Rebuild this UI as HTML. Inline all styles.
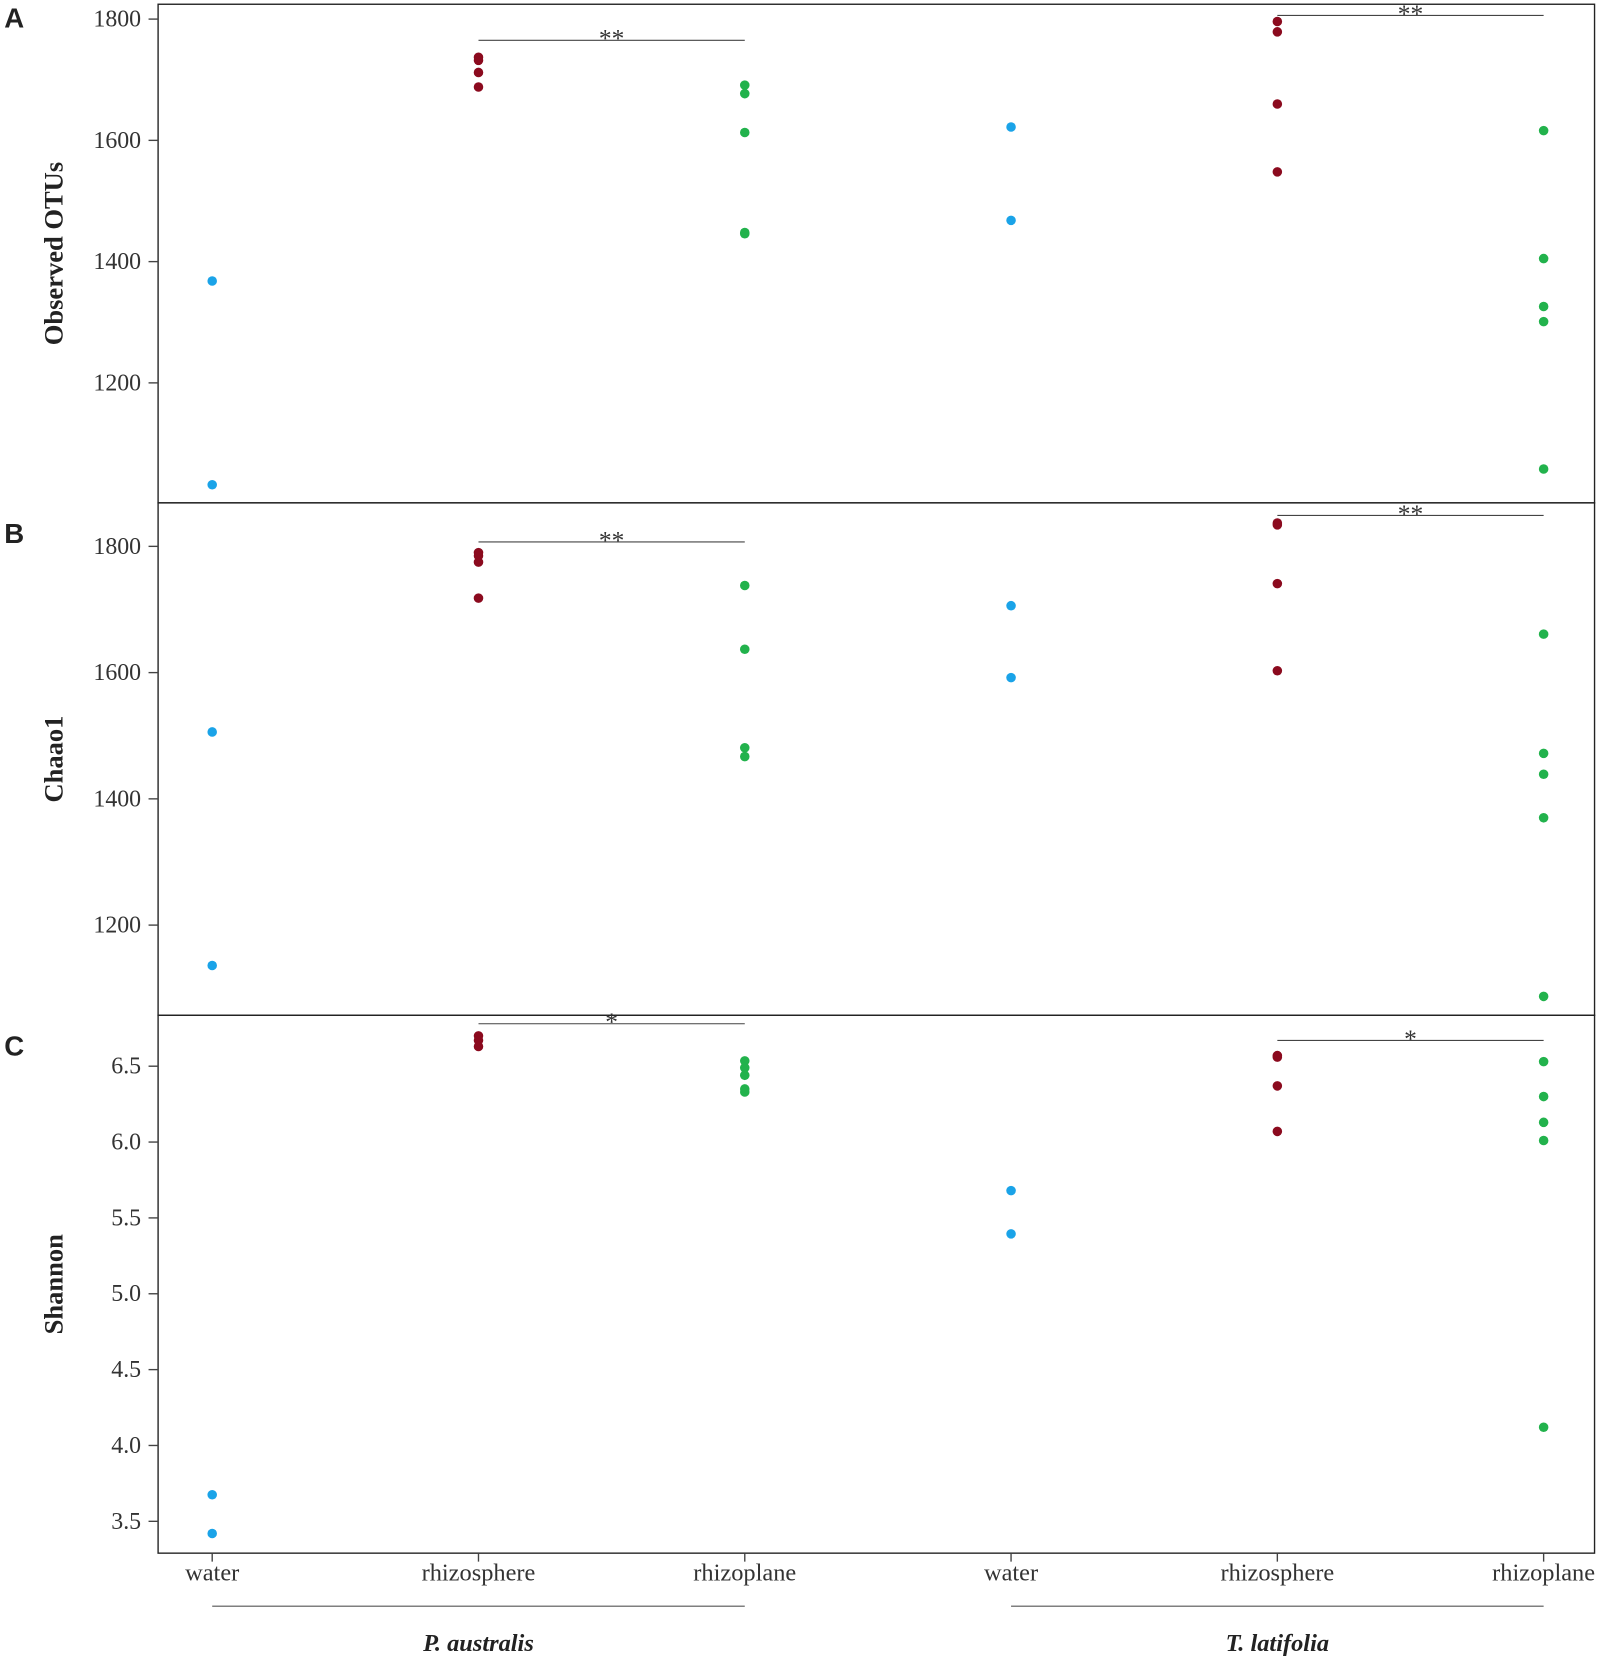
<!DOCTYPE html>
<html><head><meta charset="utf-8"><style>html,body{margin:0;padding:0;background:#fff}svg{display:block}</style></head>
<body>
<svg id="chart" xmlns="http://www.w3.org/2000/svg" width="1602" height="1662" viewBox="0 0 1510 1566.6"></svg>
<script>
const categories = ["water","rhizosphere","rhizoplane","water","rhizosphere","rhizoplane"];
const groupLabels = ["P. australis","T. latifolia"];
const otusValues = [[1368,1032],[1737,1732,1712,1688],[1691,1677,1613,1448,1446],[1622,1468],[1796,1779,1660,1548],[1616,1405,1326,1301,1058]];
const chaoValues = [[1506,1136],[1790,1785,1775,1718],[1738,1637,1481,1467],[1706,1592],[1837,1834,1741,1603],[1661,1472,1439,1370,1087]];
const shannonValues = [[3.675,3.42],[6.70,6.67,6.63],[6.535,6.49,6.44,6.35,6.33],[5.68,5.395],[6.57,6.56,6.37,6.07],[6.53,6.30,6.13,6.01,4.12]];
const otusTicks = [1200,1400,1600,1800];
const chaoTicks = [1200,1400,1600,1800];
const shannonTicks = [3.5,4.0,4.5,5.0,5.5,6.0,6.5];
const otusSig = [["**",1,2,1765],["**",4,5,1806]];
const chaoSig = [["**",1,2,1807],["**",4,5,1849]];
const shannonSig = [["*",1,2,6.78],["*",4,5,6.67]];

const NS="http://www.w3.org/2000/svg";
const svg=document.getElementById('chart');
function mk(tag,attrs,parent){const e=document.createElementNS(NS,tag);for(const k in attrs)e.setAttribute(k,attrs[k]);(parent||svg).appendChild(e);return e;}
const colors=["#1aa3e8","#8b0a1e","#22b24c","#1aa3e8","#8b0a1e","#22b24c"];
const L=149,R=1503;
function xPos(i){return 200+i*251;}
const panels=[
 {key:"a",letter:"A",title:"Observed OTUs",top:4,bottom:474,v0:1800,y0:18,pxPer:114.3/200,vals:otusValues,ticks:otusTicks,sig:otusSig,dec:0},
 {key:"b",letter:"B",title:"Chaao1",top:474,bottom:957,v0:1800,y0:515,pxPer:119/200,vals:chaoValues,ticks:chaoTicks,sig:chaoSig,dec:0},
 {key:"c",letter:"C",title:"Shannon",top:957,bottom:1464,v0:6.5,y0:1005,pxPer:143,vals:shannonValues,ticks:shannonTicks,sig:shannonSig,dec:1}
];
panels.forEach(p=>{
 const g=mk('g',{});
 
 
 const y=v=>p.y0+(p.v0-v)*p.pxPer;
 const fr=mk('rect',{x:L,y:p.top,width:R-L,height:p.bottom-p.top,fill:'none',stroke:'#222','stroke-width':1.3},g);
 
 
 p.ticks.forEach(t=>{
  const ty=y(t);
  const tl=mk('line',{x1:L-9,x2:L,y1:ty,y2:ty,stroke:'#444','stroke-width':1.3},g);
  
  
  const tx=mk('text',{x:L-16,y:ty+7,'text-anchor':'end','font-family':'Liberation Serif, serif','font-size':22.5,fill:'#333'},g);
  tx.textContent=t.toFixed(p.dec);
  
  
 });
 const cy=(p.top+p.bottom)/2;
 const tt=mk('text',{x:0,y:0,transform:`translate(59,${cy}) rotate(-90)`,'text-anchor':'middle','font-family':'Liberation Serif, serif','font-size':25,'font-weight':'bold',fill:'#222'},g);
 tt.textContent=p.title;
 
 
 const lt=mk('text',{x:4,y:p.top+(p.key==='a'?22:38),'font-family':'Liberation Sans, sans-serif','font-size':26,'font-weight':'bold',fill:'#222'},g);
 lt.textContent=p.letter;
 
 
 p.sig.forEach(s=>{
  const sy=y(s[3]);
  const sl=mk('line',{x1:xPos(s[1]),x2:xPos(s[2]),y1:sy,y2:sy,stroke:'#444','stroke-width':1},g);
  
  
  const st=mk('text',{x:(xPos(s[1])+xPos(s[2]))/2,y:sy+6,'text-anchor':'middle','font-family':'Liberation Serif, serif','font-size':24,fill:'#333'},g);
  st.textContent=s[0];
  
  
 });
 p.vals.forEach((arr,i)=>{
  arr.forEach(v=>{
   const c=mk('circle',{cx:xPos(i),cy:y(v),r:4.5,fill:colors[i]},g);
   
   
  });
 });
});
categories.forEach((c,i)=>{
 const tl=mk('line',{x1:xPos(i),x2:xPos(i),y1:1464,y2:1472,stroke:'#444','stroke-width':1.3});
 
 
 const t=mk('text',{x:xPos(i),y:1490,'text-anchor':'middle','font-family':'Liberation Serif, serif','font-size':23,fill:'#333'});
 t.textContent=c;
 
 
});
groupLabels.forEach((gl,k)=>{
 const x1=xPos(k*3),x2=xPos(k*3+2);
 const l=mk('line',{x1:x1,x2:x2,y1:1514,y2:1514,stroke:'#555','stroke-width':1});
 
 
 const t=mk('text',{x:(x1+x2)/2,y:1556,'text-anchor':'middle','font-family':'Liberation Serif, serif','font-size':23,'font-weight':'bold','font-style':'italic',fill:'#222'});
 t.textContent=gl;
 
 
});
</script>
</body></html>
